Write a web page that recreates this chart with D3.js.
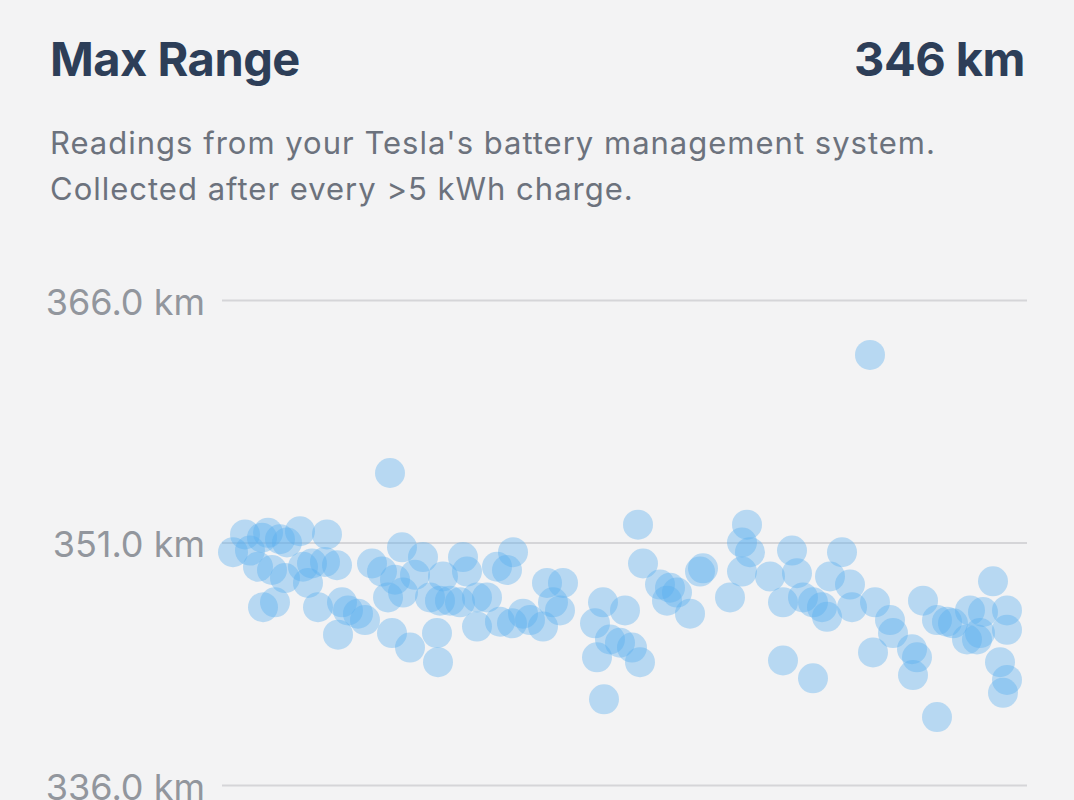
<!DOCTYPE html>
<html>
<head>
<meta charset="utf-8">
<script src="https://cdn.jsdelivr.net/npm/d3@7/dist/d3.min.js"></script>
<style>
  html, body { margin: 0; padding: 0; background: #f3f3f4; }
  svg { display: block; font-family: Inter, "Noto Sans", sans-serif; }
</style>
</head>
<body>
<div id="chart"></div>
<script>
// --- DATA ---
const title = "Max Range";
const headline = "346 km";
const subtitleLines = [
  "Readings from your Tesla's battery management system.",
  "Collected after every >5 kWh charge."
];
const yTicks = [336, 351, 366];

// days since first reading
const readingDays = [
  0, 12, 17, 29, 25, 39, 35, 47, 54, 52, 67, 70, 79, 75, 92, 94, 104, 30, 42, 85,
  109, 115, 125, 132, 105, 139, 149, 162, 157, 169, 170, 155, 159, 177, 182, 190, 197, 207, 217, 227,
  204, 205, 210, 230, 234, 244, 254, 244, 264, 274, 280, 267, 279, 290, 297, 314, 330, 320, 327, 310,
  364, 370, 371, 362, 392, 377, 387, 399, 407, 405, 410, 427, 437, 444, 434, 457, 467, 470, 497, 509,
  514, 509, 517, 537, 550, 550, 559, 564, 570, 580, 589, 594, 580, 597, 609, 617, 619, 637, 642, 640,
  657, 660, 679, 684, 680, 690, 704, 714, 720, 704, 737, 750, 734, 744, 747, 760, 774, 774, 767, 774,
  770
];
// max range in km
const maxRangeKm = [
  350.4, 351.5, 350.5, 351.3, 349.5, 349.3, 351.6, 351.2, 351.0, 348.8, 351.7, 349.5, 349.7, 348.5, 349.8, 351.5, 349.6, 347.0, 347.3, 347.0,
  347.3, 346.8, 346.6, 346.2, 345.3, 349.7, 349.2, 348.7, 355.3, 350.7, 347.9, 347.6, 345.4, 344.5, 349.0, 350.1, 347.6, 347.4, 347.4, 347.3,
  345.4, 343.6, 348.9, 350.1, 349.2, 347.6, 347.6, 345.8, 349.5, 349.3, 350.4, 346.1, 346.0, 346.6, 346.2, 348.5, 348.5, 347.3, 346.8, 345.8,
  343.9, 347.3, 341.3, 346.0, 346.8, 345.0, 344.8, 344.5, 343.6, 352.1, 349.7, 348.4, 348.2, 347.9, 347.4, 346.6, 349.2, 349.4, 347.6, 349.2,
  352.1, 351.0, 350.4, 348.9, 347.3, 343.7, 350.5, 349.1, 347.6, 347.3, 347.0, 346.4, 342.6, 348.9, 350.4, 348.4, 347.0, 362.6, 347.3, 344.2,
  346.2, 345.4, 344.4, 343.9, 342.8, 347.4, 346.2, 346.1, 346.0, 340.2, 346.8, 346.7, 345.0, 345.0, 345.4, 348.6, 346.8, 345.6, 343.6, 342.5,
  341.7
];

// --- SETUP ---
const W = 1074, H = 800;
const svg = d3.select("#chart").append("svg").attr("width", W).attr("height", H);
svg.append("rect").attr("width", W).attr("height", H).attr("fill", "#f3f3f4");

// header
svg.append("text").attr("x", 50).attr("y", 76).text(title)
  .attr("fill", "#2d3e58").style("font-size", "47px").style("font-weight", "700").style("letter-spacing", "-0.5px");
svg.append("text").attr("x", 1025).attr("y", 76).attr("text-anchor", "end").text(headline)
  .attr("fill", "#2d3e58").style("font-size", "47px").style("font-weight", "700").style("letter-spacing", "-0.5px");
svg.append("g").selectAll("text").data(subtitleLines).enter().append("text")
  .attr("x", 50).attr("y", (d, i) => 154 + i * 46).text(d => d)
  .attr("fill", "#6c727d").style("font-size", "31px").style("letter-spacing", "1px");

// --- SCALES & AXES ---
const x = d3.scaleLinear().domain([0, 774]).range([233, 1007]);
const y = d3.scaleLinear().domain([336, 366]).range([785, 300]);

const gridLeft = 222, gridRight = 1027;
const yAxis = svg.append("g").attr("transform", `translate(${gridLeft},0)`)
  .call(d3.axisLeft(y).tickValues(yTicks).tickSize(-(gridRight - gridLeft)).tickPadding(17)
    .tickFormat(d => d.toFixed(1) + " km"));
yAxis.select(".domain").remove();
yAxis.selectAll("line").attr("stroke", "#d5d5d8").attr("stroke-width", 2);
yAxis.selectAll("text").attr("fill", "#92969d").attr("dy", "0.4em")
  .style("font-size", "36px").style("font-family", "Inter, 'Noto Sans', sans-serif");

// --- POINTS ---
const points = readingDays.map((d, i) => ({ day: d, km: maxRangeKm[i] }));
svg.append("g").selectAll("circle").data(points).enter().append("circle")
  .attr("cx", d => x(d.day)).attr("cy", d => y(d.km)).attr("r", 15)
  .attr("fill", "#58aef0").attr("fill-opacity", 0.38);
</script>
</body>
</html>
